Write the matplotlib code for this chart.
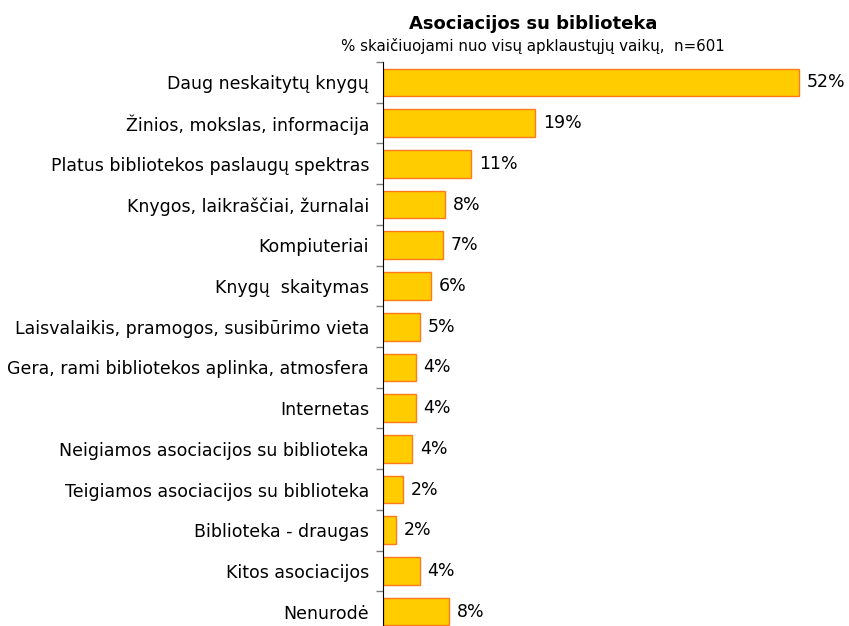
import matplotlib
matplotlib.use('Agg')
import matplotlib.pyplot as plt
import numpy as np

categories = ['Daug neskaitytų knygų', 'Žinios, mokslas, informacija',
              'Platus bibliotekos paslaugų spektras', 'Knygos, laikraščiai, žurnalai',
              'Kompiuteriai', 'Knygų  skaitymas', 'Laisvalaikis, pramogos, susibūrimo vieta',
              'Gera, rami bibliotekos aplinka, atmosfera', 'Internetas',
              'Neigiamos asociacijos su biblioteka', 'Teigiamos asociacijos su biblioteka',
              'Biblioteka - draugas', 'Kitos asociacijos', 'Nenurodė']
values = [52, 19, 11, 7.75, 7.5, 6, 4.6, 4.1, 4.1, 3.7, 2.5, 1.6, 4.6, 8.3]
value_labels = ['52%', '19%', '11%', '8%', '7%', '6%', '5%', '4%', '4%', '4%', '2%', '2%', '4%', '8%']

plt.rcParams['font.family'] = ['DejaVu Sans']

fig = plt.figure(figsize=(8.49, 6.26), dpi=100)
ax = fig.add_axes([0.451, -0.0096, 0.518, 0.9105])

y = np.arange(len(categories))
ax.barh(y, values, height=0.68, color='#FFCC00', edgecolor='#FF7A1A', linewidth=1)
for yi, v, lab in zip(y, values, value_labels):
    ax.text(v + 1.0, yi, lab, va='center', ha='left', fontsize=12.5)

ax.set_xlim(0, 55)
ax.set_ylim(13.5, -0.5)
ax.set_yticks(y)
ax.set_yticklabels(categories, fontsize=12.5)
ax.set_yticks(np.arange(-0.5, 14, 1), minor=True)
ax.tick_params(axis='y', which='major', length=0, pad=10)
ax.tick_params(axis='y', which='minor', length=5, width=1, color='#808080')
ax.set_xticks([])
for s in ['top', 'right', 'bottom']:
    ax.spines[s].set_visible(False)
ax.spines['left'].set_color('black')

fig.text(0.628, 0.962, 'Asociacijos su biblioteka', ha='center', va='center',
         fontsize=13, fontweight='bold')
fig.text(0.628, 0.926, '% skaičiuojami nuo visų apklaustųjų vaikų,  n=601',
         ha='center', va='center', fontsize=10.8)

plt.savefig('out.png', dpi=100)
